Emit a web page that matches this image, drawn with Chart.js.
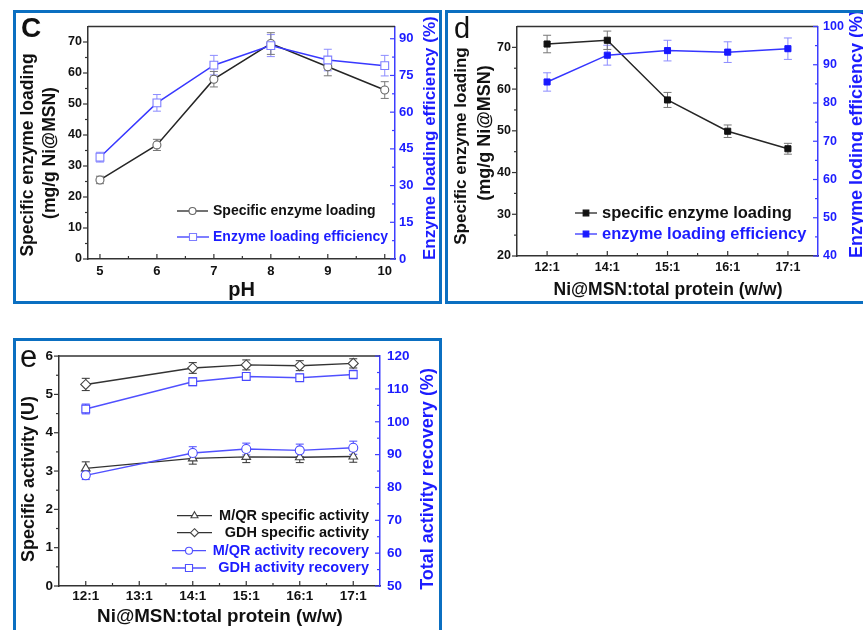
<!DOCTYPE html>
<html><head><meta charset="utf-8">
<script src="https://cdn.jsdelivr.net/npm/chart.js@4.4.1/dist/chart.umd.min.js"></script>
<style>
html,body{margin:0;padding:0;background:#fff;}
body{overflow:hidden;width:863px;height:630px;position:relative}
.box{position:absolute;border:3px solid #0b6fc1;box-sizing:border-box}
canvas{position:absolute}
</style></head><body>
<div class="box" style="left:13px;top:10px;width:429px;height:294px"></div>
<div class="box" style="left:445px;top:10px;width:440px;height:294px"></div>
<div class="box" style="left:13px;top:338px;width:429px;height:320px"></div>
<canvas id="cc" width="423" height="288" style="left:16px;top:13px"></canvas>
<canvas id="cd" width="421" height="288" style="left:448px;top:13px"></canvas>
<canvas id="ce" width="423" height="289" style="left:16px;top:341px"></canvas>
<script>
// ---------------- panel c data ----------------
const cPH = [5, 6, 7, 8, 9, 10];
const cLoading = [25.5, 36.8, 58.0, 69.5, 62.0, 54.5];
const cLoadingErr = [1.2, 1.8, 2.5, 3.5, 2.9, 2.7];
const cEfficiency = [41.6, 63.8, 79.2, 87.2, 81.3, 79.0];
const cEfficiencyErr = [2.0, 3.4, 4.0, 4.5, 4.4, 4.2];
const cXTicks = [5, 6, 7, 8, 9, 10];
const cYTicks = [0, 10, 20, 30, 40, 50, 60, 70];
const cY2Ticks = [0, 15, 30, 45, 60, 75, 90];

// ---------------- panel d data ----------------
const dRatios = ['12:1', '14:1', '15:1', '16:1', '17:1'];
const dLoading = [70.8, 71.7, 57.4, 49.9, 45.7];
const dLoadingErr = [2.1, 2.2, 1.8, 1.5, 1.3];
const dEfficiency = [85.5, 92.5, 93.7, 93.3, 94.2];
const dEfficiencyErr = [2.4, 2.6, 2.7, 2.7, 2.8];
const dYTicks = [20, 30, 40, 50, 60, 70];
const dY2Ticks = [40, 50, 60, 70, 80, 90, 100];

// ---------------- panel e data ----------------
const eRatios = ['12:1', '13:1', '14:1', '15:1', '16:1', '17:1'];
const eMaqrSpec = [3.07, null, 3.33, 3.37, 3.36, 3.38];
const eMaqrSpecErr = [0.17, null, 0.15, 0.15, 0.14, 0.15];
const eGdhSpec = [5.26, null, 5.69, 5.77, 5.75, 5.81];
const eGdhSpecErr = [0.16, null, 0.14, 0.13, 0.13, 0.12];
const eMaqrRec = [83.7, null, 90.5, 91.7, 91.3, 92.1];
const eMaqrRecErr = [1.3, null, 1.9, 1.8, 1.9, 2.0];
const eGdhRec = [103.9, null, 112.2, 113.8, 113.4, 114.4];
const eGdhRecErr = [1.5, null, 1.2, 1.0, 1.1, 1.3];
const eYTicks = [0, 1, 2, 3, 4, 5, 6];
const eY2Ticks = [50, 60, 70, 80, 90, 100, 110, 120];

// ---------------- styling ----------------
const FONT = '"Liberation Sans", Arial, Helvetica, sans-serif';
const TXT = '#111111';
const AXIS = '#333333';
const BLUE_TXT = '#1c1cff';
const BLUE_AXIS = '#3d3dff';

function fixedTicks(arr) { return s => { s.ticks = arr.map(v => ({ value: v })); }; }
function fnt(size, weight) { return { family: FONT, size: size, weight: weight || 'bold', lineHeight: 1.2 }; }

function axis(opts) {
  const o = {
    type: opts.type || 'linear',
    position: opts.position,
    grid: { display: false, drawTicks: false, tickLength: 0 },
    border: { display: true, color: opts.color, width: 1.5 },
    ticks: { font: fnt(opts.fontSize), color: opts.tickColor, padding: opts.padding, maxRotation: 0, autoSkip: false },
    afterFit: opts.fit
  };
  if (opts.min !== undefined) o.min = opts.min;
  if (opts.max !== undefined) o.max = opts.max;
  if (opts.ticksArr) o.afterBuildTicks = fixedTicks(opts.ticksArr);
  if (opts.offset !== undefined) o.offset = opts.offset;
  return o;
}

const errorBarPlugin = {
  id: 'errorBars',
  beforeDatasetsDraw(chart) {
    const ctx = chart.ctx;
    chart.data.datasets.forEach((ds, di) => {
      if (!ds.errorBars) return;
      const meta = chart.getDatasetMeta(di);
      const ys = chart.scales[ds.yAxisID];
      ctx.save();
      ctx.strokeStyle = ds.errorColor;
      ctx.lineWidth = 1;
      meta.data.forEach((pt, i) => {
        const raw = ds.data[i];
        const val = (raw !== null && typeof raw === 'object') ? raw.y : raw;
        const e = ds.errorBars[i];
        if (val == null || e == null) return;
        const x = pt.x;
        const y1 = ys.getPixelForValue(val + e), y2 = ys.getPixelForValue(val - e);
        const cap = ds.errorCap || 4;
        ctx.beginPath();
        ctx.moveTo(x, y1); ctx.lineTo(x, y2);
        ctx.moveTo(x - cap, y1); ctx.lineTo(x + cap, y1);
        ctx.moveTo(x - cap, y2); ctx.lineTo(x + cap, y2);
        ctx.stroke();
      });
      ctx.restore();
    });
  }
};

function marker(ctx, style, x, y, r, stroke, fill, lw) {
  ctx.save();
  ctx.strokeStyle = stroke; ctx.fillStyle = fill; ctx.lineWidth = lw || 1.2;
  ctx.beginPath();
  if (style === 'circle') ctx.arc(x, y, r, 0, Math.PI * 2);
  else if (style === 'rect') { const s = r / Math.SQRT2; ctx.rect(x - s, y - s, 2 * s, 2 * s); }
  else if (style === 'rectRot') { ctx.moveTo(x, y - r); ctx.lineTo(x + r, y); ctx.lineTo(x, y + r); ctx.lineTo(x - r, y); ctx.closePath(); }
  else if (style === 'triangle') { ctx.moveTo(x, y - r); ctx.lineTo(x + r * 0.87, y + r * 0.5); ctx.lineTo(x - r * 0.87, y + r * 0.5); ctx.closePath(); }
  ctx.fill(); ctx.stroke();
  ctx.restore();
}

function text(ctx, s, x, y, o) {
  ctx.save();
  ctx.font = (o.weight || 'bold') + ' ' + o.size + 'px ' + FONT;
  ctx.fillStyle = o.color || TXT;
  ctx.textAlign = o.align || 'left';
  ctx.textBaseline = o.baseline || 'middle';
  ctx.translate(x, y);
  if (o.rot) ctx.rotate(o.rot);
  ctx.fillText(s, 0, 0);
  ctx.restore();
}

function decorPlugin(spec) {
  return {
    id: 'decor',
    afterDraw(chart) {
      const ctx = chart.ctx, a = chart.chartArea;
      // top frame
      ctx.save();
      ctx.strokeStyle = AXIS; ctx.lineWidth = 1.5;
      ctx.beginPath(); ctx.moveTo(a.left, a.top); ctx.lineTo(a.right, a.top); ctx.stroke();
      ctx.restore();
      // tick marks (major + minor)
      spec.ticks.forEach(t => {
        const sc = chart.scales[t.id];
        const majors = sc.ticks.map((tk, i) => sc.getPixelForTick(i));
        const minors = [];
        for (let i = 0; i < majors.length - 1; i++) minors.push((majors[i] + majors[i + 1]) / 2);
        ctx.save(); ctx.strokeStyle = t.color; ctx.lineWidth = 1.2;
        const draw = (p, len) => {
          ctx.beginPath();
          if (t.pos === 'left') { ctx.moveTo(a.left, p); ctx.lineTo(a.left + (t.dir === 'in' ? len : -len), p); }
          else if (t.pos === 'right') { ctx.moveTo(a.right, p); ctx.lineTo(a.right + (t.dir === 'in' ? -len : len), p); }
          else { ctx.moveTo(p, a.bottom); ctx.lineTo(p, a.bottom + (t.dir === 'in' ? -len : len)); }
          ctx.stroke();
        };
        majors.forEach(p => draw(p, 5));
        minors.forEach(p => draw(p, 3));
        ctx.restore();
      });
      // texts
      spec.texts.forEach(t => text(ctx, t.s, t.x, t.y, t));
      // legend
      spec.legend.forEach(l => {
        ctx.save();
        ctx.strokeStyle = l.lineColor; ctx.lineWidth = 1.3;
        ctx.beginPath(); ctx.moveTo(l.x1, l.y); ctx.lineTo(l.x2, l.y); ctx.stroke();
        ctx.restore();
        marker(ctx, l.style, (l.x1 + l.x2) / 2, l.y, l.r, l.mStroke, l.mFill, 1.1);
        text(ctx, l.s, l.tx, l.y, { size: l.size, color: l.color, align: l.align || 'left' });
      });
    }
  };
}

const baseOpts = {
  responsive: false,
  animation: false,
  events: [],
  plugins: { legend: { display: false }, tooltip: { enabled: false }, title: { display: false } }
};

// ================= Panel c =================
new Chart(document.getElementById('cc'), {
  type: 'line',
  data: {
    datasets: [
      {
        label: 'Enzyme loading efficiency', yAxisID: 'y1',
        data: cPH.map((x, i) => ({ x: x, y: cEfficiency[i] })),
        borderColor: '#3838ff', borderWidth: 1.5, tension: 0,
        pointStyle: 'rect', pointRadius: 5.5, pointBorderColor: '#7d7dff', pointBackgroundColor: '#ffffff', pointBorderWidth: 1.1,
        errorBars: cEfficiencyErr, errorColor: '#8c8cff', errorCap: 4
      },
      {
        label: 'Specific enzyme loading', yAxisID: 'y',
        data: cPH.map((x, i) => ({ x: x, y: cLoading[i] })),
        borderColor: '#262626', borderWidth: 1.5, tension: 0,
        pointStyle: 'circle', pointRadius: 4, pointBorderColor: '#666666', pointBackgroundColor: '#ffffff', pointBorderWidth: 1.1,
        errorBars: cLoadingErr, errorColor: '#777777', errorCap: 4
      }
    ]
  },
  options: Object.assign({}, baseOpts, {
    layout: { padding: { top: 11, left: 0, right: 0, bottom: 0 } },
    scales: {
      x: axis({ type: 'linear', position: 'bottom', min: 4.79, max: 10.18, ticksArr: cXTicks, color: AXIS, tickColor: TXT, fontSize: 13, padding: 5, fit: s => { s.height = 42; } }),
      y: axis({ position: 'left', min: 0, max: 75, ticksArr: cYTicks, color: AXIS, tickColor: TXT, fontSize: 12.5, padding: 6, fit: s => { s.width = 72; } }),
      y1: axis({ position: 'right', min: 0, max: 95, ticksArr: cY2Ticks, color: BLUE_AXIS, tickColor: BLUE_TXT, fontSize: 13, padding: 4, fit: s => { s.width = 44; } })
    }
  }),
  plugins: [errorBarPlugin, decorPlugin({
    ticks: [
      { id: 'x', pos: 'bottom', dir: 'in', color: AXIS },
      { id: 'y', pos: 'left', dir: 'out', color: AXIS },
      { id: 'y1', pos: 'right', dir: 'in', color: BLUE_AXIS }
    ],
    texts: [
      { s: 'C', x: 5, y: 24, size: 28, baseline: 'alphabetic' },
      { s: 'Specific enzyme loading', x: 12, y: 142, size: 17.5, align: 'center', rot: -Math.PI / 2 },
      { s: '(mg/g Ni@MSN)', x: 34, y: 140, size: 17.5, align: 'center', rot: -Math.PI / 2 },
      { s: 'Enzyme loading efficiency (%)', x: 414, y: 247, size: 17, align: 'left', rot: -Math.PI / 2, color: BLUE_TXT },
      { s: 'pH', x: 225.5, y: 277, size: 20, align: 'center' }
    ],
    legend: [
      { s: 'Specific enzyme loading', x1: 161, x2: 192, y: 198, tx: 197, size: 14, color: TXT, lineColor: '#262626', style: 'circle', r: 3.5, mStroke: '#666666', mFill: '#fff' },
      { s: 'Enzyme loading efficiency', x1: 161, x2: 193, y: 224, tx: 197, size: 14, color: BLUE_TXT, lineColor: '#3838ff', style: 'rect', r: 5, mStroke: '#7d7dff', mFill: '#fff' }
    ]
  })]
});

// ================= Panel d =================
new Chart(document.getElementById('cd'), {
  type: 'line',
  data: {
    labels: dRatios,
    datasets: [
      {
        label: 'enzyme loading efficiency', yAxisID: 'y1', data: dEfficiency,
        borderColor: '#3535ff', borderWidth: 1.5, tension: 0,
        pointStyle: 'rect', pointRadius: 4.3, pointBorderColor: '#1818ff', pointBackgroundColor: '#1818ff', pointBorderWidth: 1,
        errorBars: dEfficiencyErr, errorColor: '#8c8cff', errorCap: 4
      },
      {
        label: 'specific enzyme loading', yAxisID: 'y', data: dLoading,
        borderColor: '#262626', borderWidth: 1.5, tension: 0,
        pointStyle: 'rect', pointRadius: 4.3, pointBorderColor: '#111111', pointBackgroundColor: '#111111', pointBorderWidth: 1,
        errorBars: dLoadingErr, errorColor: '#777777', errorCap: 4
      }
    ]
  },
  options: Object.assign({}, baseOpts, {
    layout: { padding: { top: 10, left: 0, right: 0, bottom: 0 } },
    scales: {
      x: axis({ type: 'category', position: 'bottom', offset: true, color: AXIS, tickColor: TXT, fontSize: 12.5, padding: 4.5, fit: s => { s.height = 45; } }),
      y: axis({ position: 'left', min: 20, max: 75, ticksArr: dYTicks, color: AXIS, tickColor: TXT, fontSize: 12.5, padding: 6, fit: s => { s.width = 69; } }),
      y1: axis({ position: 'right', min: 40, max: 100, ticksArr: dY2Ticks, color: BLUE_AXIS, tickColor: BLUE_TXT, fontSize: 12.5, padding: 5, fit: s => { s.width = 51; } })
    }
  }),
  plugins: [errorBarPlugin, decorPlugin({
    ticks: [
      { id: 'x', pos: 'bottom', dir: 'in', color: AXIS },
      { id: 'y', pos: 'left', dir: 'out', color: AXIS },
      { id: 'y1', pos: 'right', dir: 'in', color: BLUE_AXIS }
    ],
    texts: [
      { s: 'd', x: 6, y: 25, size: 29, weight: 'normal', baseline: 'alphabetic' },
      { s: 'Specific enzyme loading', x: 13, y: 133, size: 17, align: 'center', rot: -Math.PI / 2 },
      { s: '(mg/g Ni@MSN)', x: 37, y: 120, size: 18, align: 'center', rot: -Math.PI / 2 },
      { s: 'Enzyme loding efficiency (%)', x: 409, y: 245, size: 18, align: 'left', rot: -Math.PI / 2, color: BLUE_TXT },
      { s: 'Ni@MSN:total protein (w/w)', x: 220, y: 277, size: 17.5, align: 'center' }
    ],
    legend: [
      { s: 'specific enzyme loading', x1: 127, x2: 149, y: 200, tx: 154, size: 16.5, color: TXT, lineColor: '#262626', style: 'rect', r: 4, mStroke: '#111', mFill: '#111' },
      { s: 'enzyme loading efficiency', x1: 127, x2: 149, y: 221, tx: 154, size: 16.5, color: BLUE_TXT, lineColor: '#3535ff', style: 'rect', r: 4, mStroke: '#1818ff', mFill: '#1818ff' }
    ]
  })]
});

// ================= Panel e =================
new Chart(document.getElementById('ce'), {
  type: 'line',
  data: {
    labels: eRatios,
    datasets: [
      {
        label: 'GDH activity recovery', yAxisID: 'y1', data: eGdhRec, spanGaps: true,
        borderColor: '#5050ff', borderWidth: 1.4, tension: 0,
        pointStyle: 'rect', pointRadius: 5.5, pointBorderColor: '#4848ff', pointBackgroundColor: '#fff', pointBorderWidth: 1.1,
        errorBars: eGdhRecErr, errorColor: '#4848ff', errorCap: 4
      },
      {
        label: 'M/QR activity recovery', yAxisID: 'y1', data: eMaqrRec, spanGaps: true,
        borderColor: '#5050ff', borderWidth: 1.4, tension: 0,
        pointStyle: 'circle', pointRadius: 4.5, pointBorderColor: '#4848ff', pointBackgroundColor: '#fff', pointBorderWidth: 1.1,
        errorBars: eMaqrRecErr, errorColor: '#4848ff', errorCap: 4
      },
      {
        label: 'GDH specific activity', yAxisID: 'y', data: eGdhSpec, spanGaps: true,
        borderColor: '#333333', borderWidth: 1.4, tension: 0,
        pointStyle: 'rectRot', pointRadius: 5, pointBorderColor: '#444', pointBackgroundColor: '#fff', pointBorderWidth: 1.1,
        errorBars: eGdhSpecErr, errorColor: '#333', errorCap: 4
      },
      {
        label: 'M/QR specific activity', yAxisID: 'y', data: eMaqrSpec, spanGaps: true,
        borderColor: '#333333', borderWidth: 1.4, tension: 0,
        pointStyle: 'triangle', pointRadius: 5, pointBorderColor: '#444', pointBackgroundColor: '#fff', pointBorderWidth: 1.1,
        errorBars: eMaqrSpecErr, errorColor: '#333', errorCap: 4
      }
    ]
  },
  options: Object.assign({}, baseOpts, {
    layout: { padding: { top: 9, left: 0, right: 0, bottom: 0 } },
    scales: {
      x: axis({ type: 'category', position: 'bottom', offset: true, color: AXIS, tickColor: TXT, fontSize: 13.5, padding: 2.5, fit: s => { s.height = 44; } }),
      y: axis({ position: 'left', min: 0, max: 6, ticksArr: eYTicks, color: AXIS, tickColor: TXT, fontSize: 13.5, padding: 6, fit: s => { s.width = 43; } }),
      y1: axis({ position: 'right', min: 50, max: 120, ticksArr: eY2Ticks, color: BLUE_AXIS, tickColor: BLUE_TXT, fontSize: 13.5, padding: 7, fit: s => { s.width = 59; } })
    }
  }),
  plugins: [errorBarPlugin, decorPlugin({
    ticks: [
      { id: 'x', pos: 'bottom', dir: 'in', color: AXIS },
      { id: 'y', pos: 'left', dir: 'out', color: AXIS },
      { id: 'y1', pos: 'right', dir: 'in', color: BLUE_AXIS }
    ],
    texts: [
      { s: 'e', x: 4, y: 26, size: 31, weight: 'normal', baseline: 'alphabetic' },
      { s: 'Specific activity (U)', x: 13, y: 138, size: 18, align: 'center', rot: -Math.PI / 2 },
      { s: 'Total activity recovery (%)', x: 412, y: 138, size: 18, align: 'center', rot: -Math.PI / 2, color: BLUE_TXT },
      { s: 'Ni@MSN:total protein (w/w)', x: 204, y: 276, size: 18.8, align: 'center' }
    ],
    legend: [
      { s: 'M/QR specific activity', x1: 161, x2: 196, y: 174.7, tx: 353, align: 'right', size: 14.5, color: TXT, lineColor: '#333', style: 'triangle', r: 4, mStroke: '#444', mFill: '#fff' },
      { s: 'GDH specific activity', x1: 161, x2: 196, y: 191.7, tx: 353, align: 'right', size: 14.5, color: TXT, lineColor: '#333', style: 'rectRot', r: 4, mStroke: '#444', mFill: '#fff' },
      { s: 'M/QR activity recovery', x1: 156, x2: 190, y: 209.7, tx: 353, align: 'right', size: 14.5, color: BLUE_TXT, lineColor: '#5050ff', style: 'circle', r: 3.5, mStroke: '#5050ff', mFill: '#fff' },
      { s: 'GDH activity recovery', x1: 156, x2: 190, y: 227, tx: 353, align: 'right', size: 14.5, color: BLUE_TXT, lineColor: '#5050ff', style: 'rect', r: 5, mStroke: '#5050ff', mFill: '#fff' }
    ]
  })]
});
</script>
</body></html>
